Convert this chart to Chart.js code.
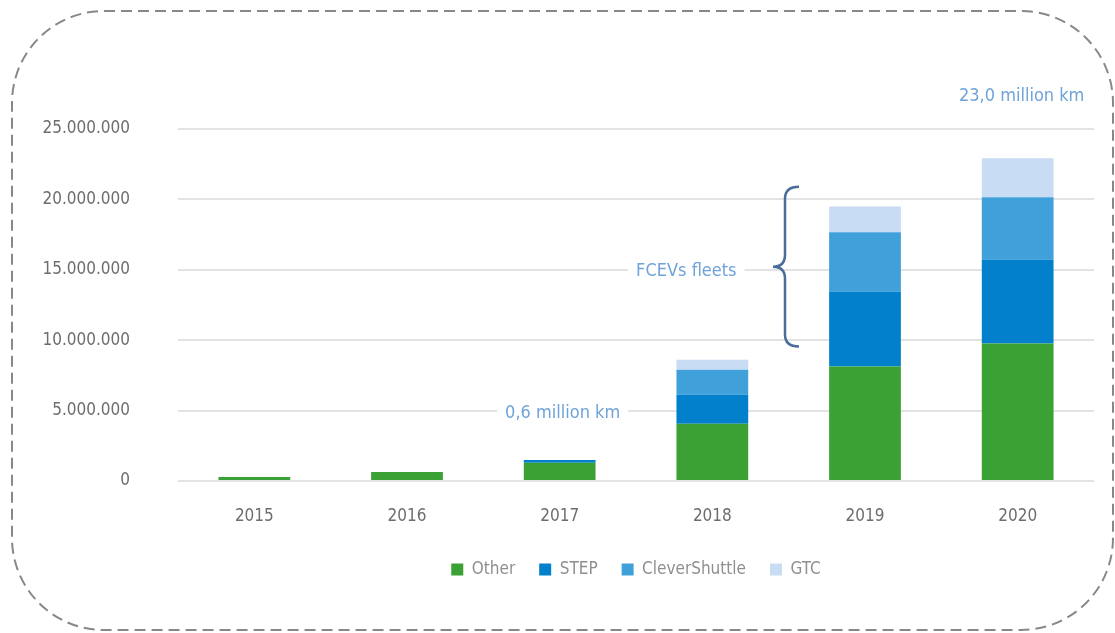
<!DOCTYPE html>
<html>
  <head>
    <meta charset="utf-8">
    <style type="text/css">
      html, body { margin: 0; padding: 0; background: #fff; }
      .chart-container { width: 1115px; height: 633px; position: relative; }
    </style>
  </head>
  <body>
    <script src="https://cdn.jsdelivr.net/npm/chart.js@4/dist/chart.umd.min.js"></script>

    <div class="chart-container">
      <canvas id="myChart" width="1115" height="633"></canvas>
    </div>

    <script>
      /* datas */
      const years = ['2015', '2016', '2017', '2018', '2019', '2020'];
      const other = [280000, 640000, 1300000, 4060000, 8140000, 9760000];
      const step = [0, 0, 190000, 2070000, 5320000, 5980000];
      const cleverShuttle = [0, 0, 0, 1780000, 4200000, 4420000];
      const gtc = [0, 0, 0, 710000, 1840000, 2770000];
      const yTicks = [0, 5000000, 10000000, 15000000, 20000000, 25000000];

      // notes drawn on top of the bars: [text, year, value, x shift]
      const notes = [
        ['0,6 million km', '2017', 4800000, 3],
        ['FCEVs fleets', '2018', 14900000, -26],
        ['23,0 million km', '2020', 27300000, 4]
      ];
      const braceFrom = 9550000;
      const braceTo = 20900000;

      const font = "'Liberation Sans Narrow', 'DejaVu Sans Condensed', sans-serif";
      const noteColor = '#6fa3d9';

      const fmt = (v) => String(v).replace(/\B(?=(\d{3})+(?!\d))/g, '.');

      /* dashed frame + notes + brace */
      const extras = {
        id: 'extras',
        beforeDraw(chart) {
          const ctx = chart.ctx;
          ctx.save();
          ctx.strokeStyle = '#888';
          ctx.lineWidth = 2;
          ctx.setLineDash([11, 6]);
          ctx.beginPath();
          ctx.roundRect(12, 11, 1101, 619, 92);
          ctx.stroke();
          ctx.restore();
        },
        afterDatasetsDraw(chart) {
          const ctx = chart.ctx;
          const x = chart.scales.x, y = chart.scales.y;
          ctx.save();
          ctx.font = '18px ' + font;
          ctx.textBaseline = 'middle';
          ctx.textAlign = 'center';
          notes.forEach(([t, yr, v, dx]) => {
            const px = x.getPixelForValue(years.indexOf(yr)) + dx;
            const py = y.getPixelForValue(v);
            const w = ctx.measureText(t).width;
            ctx.fillStyle = '#fff';
            ctx.fillRect(px - w / 2 - 8, py - 12, w + 16, 24);
            ctx.fillStyle = noteColor;
            ctx.fillText(t, px, py);
          });

          // curly brace left of the 2019 bar
          const bx = x.getPixelForValue(4) - 80;
          const top = y.getPixelForValue(braceTo);
          const bot = y.getPixelForValue(braceFrom);
          const mid = (top + bot) / 2;
          const r = 12;
          ctx.strokeStyle = '#4a6d99';
          ctx.lineWidth = 2.5;
          ctx.beginPath();
          ctx.moveTo(bx + 14, top);
          ctx.quadraticCurveTo(bx, top, bx, top + r);
          ctx.lineTo(bx, mid - r);
          ctx.quadraticCurveTo(bx, mid, bx - 12, mid);
          ctx.quadraticCurveTo(bx, mid, bx, mid + r);
          ctx.lineTo(bx, bot - r);
          ctx.quadraticCurveTo(bx, bot, bx + 14, bot);
          ctx.stroke();
          ctx.restore();
        }
      };

      const mk = (label, data, color) => ({
        label: label,
        data: data,
        backgroundColor: color,
        borderWidth: 0,
        barPercentage: 0.47,
        categoryPercentage: 1
      });

      const myChart = new Chart('myChart', {
        type: 'bar',
        data: {
          labels: years,
          datasets: [
            mk('Other', other, '#3ca135'),
            mk('STEP', step, '#0280cb'),
            mk('CleverShuttle', cleverShuttle, '#40a0da'),
            mk('GTC', gtc, '#c8dcf3')
          ]
        },
        options: {
          responsive: false,
          animation: false,
          layout: { padding: { left: 8, right: 21, top: 129, bottom: 45 } },
          plugins: {
            tooltip: { enabled: false },
            legend: {
              position: 'bottom',
              fullSize: false,
              labels: {
                boxWidth: 12,
                boxHeight: 12,
                padding: 24,
                color: '#8f8f8f',
                font: { family: font, size: 17 }
              }
            }
          },
          scales: {
            x: {
              stacked: true,
              grid: { display: false },
              border: { display: false },
              afterFit: (s) => { s.height = 56; },
              ticks: { color: '#6d6d6d', padding: 17, font: { family: font, size: 17 } }
            },
            y: {
              stacked: true,
              min: 0,
              max: 25000000,
              afterBuildTicks: (s) => { s.ticks = yTicks.map(v => ({ value: v })); },
              afterFit: (s) => { s.width = 170; },
              grid: { color: '#e3e3e3', lineWidth: 2, drawTicks: false },
              border: { display: false },
              ticks: {
                color: '#6d6d6d',
                padding: 48,
                font: { family: font, size: 17 },
                callback: (v) => fmt(v)
              }
            }
          }
        },
        plugins: [extras]
      });
    </script>
  </body>
</html>
